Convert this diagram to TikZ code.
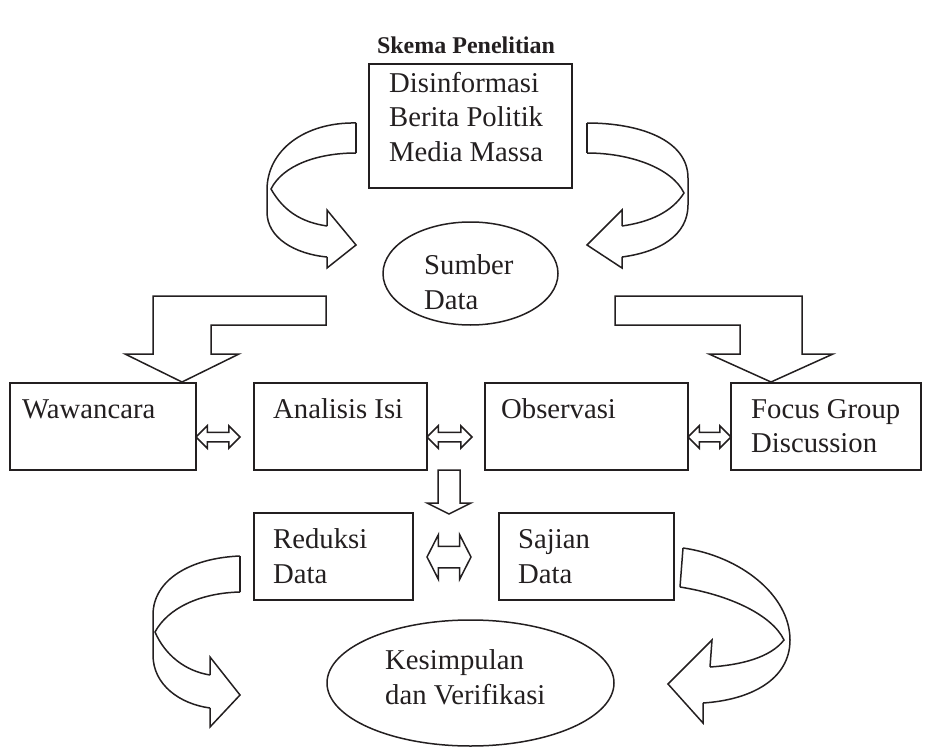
\documentclass[tikz,border=0pt]{standalone}
\usepackage{fontspec}
\setmainfont{Liberation Serif}
\usetikzlibrary{shapes.geometric,shapes.arrows}
\definecolor{ink}{HTML}{231F20}
\newcommand\bfnt{\fontsize{28.7}{34}\selectfont}
\newcommand\tfnt{\fontsize{24}{28}\selectfont\bfseries}
\tikzset{
  ln/.style={line width=1.5pt, draw=ink, line join=miter},
  box/.style={ln, rectangle, inner sep=0pt, outer sep=0pt},
  oval/.style={ln, ellipse, inner sep=0pt, outer sep=0pt},
  txt/.style={anchor=base west, inner sep=0pt, text=ink, font=\bfnt},
  blk/.style={ln, fill=white},
  dbl/.style={ln, double arrow, inner xsep=0pt, inner ysep=4pt, double arrow head extend=6.5pt},
  bigdbl/.style={ln, double arrow, inner xsep=0pt, inner ysep=10pt, double arrow head extend=11.5pt, double arrow tip angle=126},
}
\begin{document}
\begin{tikzpicture}[x=1pt,y=-1pt]
\useasboundingbox (0,0) rectangle (932,749);
% title
\node[anchor=base, inner sep=0pt, text=ink, font=\tfnt] (title) at (466,54) {Skema Penelitian};
% boxes
\node[box, minimum width=203pt, minimum height=124pt] (dis) at (470.5,126) {};
\node[txt] (dis1) at (389,92.5) {Disinformasi};
\node[txt] (dis2) at (389,127) {Berita Politik};
\node[txt] (dis3) at (389,161) {Media Massa};
\node[oval, minimum width=175pt, minimum height=103pt] (sumber) at (470.5,273.5) {};
\node[txt] (sum1) at (424,274) {Sumber};
\node[txt] (sum2) at (424,309) {Data};
\node[box, minimum width=186pt, minimum height=87pt] (wawan) at (103,426.5) {};
\node[txt] (wawant) at (22,418) {Wawancara};
\node[box, minimum width=173pt, minimum height=87pt] (anal) at (340.5,426.5) {};
\node[txt] (analt) at (273,418) {Analisis Isi};
\node[box, minimum width=203pt, minimum height=87pt] (obs) at (586.5,426.5) {};
\node[txt] (obst) at (501,418) {Observasi};
\node[box, minimum width=190pt, minimum height=87pt] (fgd) at (826,426.5) {};
\node[txt] (fgd1) at (751,418) {Focus Group};
\node[txt] (fgd2) at (751,452) {Discussion};
\node[box, minimum width=159pt, minimum height=87pt] (red) at (333.5,556.5) {};
\node[txt] (red1) at (273,548) {Reduksi};
\node[txt] (red2) at (273,583) {Data};
\node[box, minimum width=175pt, minimum height=87pt] (saj) at (586.5,556.5) {};
\node[txt] (saj1) at (518,548) {Sajian};
\node[txt] (saj2) at (518,583) {Data};
\node[oval, minimum width=287pt, minimum height=126pt] (kes) at (470.5,683) {};
\node[txt] (kes1) at (385,669) {Kesimpulan};
\node[txt] (kes2) at (385,704) {dan Verifikasi};
% double arrows
\node[dbl, minimum height=44pt] (d1) at (218,437) {};
\node[dbl, minimum height=45pt] (d2) at (449.5,437) {};
\node[dbl, minimum height=43pt] (d3) at (709.5,437) {};
\node[bigdbl, minimum height=44pt] (d4) at (449,557) {};
% down arrow
\draw[blk] (438,470) -- (460,470) -- (460,503) -- (471,503) -- (449,514) -- (427,503) -- (438,503) -- cycle;
% L arrows
\draw[blk] (153,296) -- (326,296) -- (326,325) -- (211,325) -- (211,354) -- (239,354) -- (182,382) -- (125,354) -- (153,354) -- cycle;
\draw[blk] (615,296) -- (802,296) -- (802,354) -- (833,354) -- (771,382) -- (709,354) -- (740,354) -- (740,325) -- (615,325) -- cycle;
% curved arrow top-left
\draw[ln] (356,123) .. controls (305,122) and (267,150) .. (267,190) -- (267,212) .. controls (267,238) and (295,254) .. (327,257);
\draw[ln] (356,153) .. controls (318,153) and (283,165) .. (271,189) .. controls (283,210) and (300,222) .. (327,226);
\draw[ln] (356,123) -- (356,153);
\draw[ln] (327,226) -- (327,210) -- (356,245) -- (327,268) -- (327,257);
% curved arrow top-right
\draw[ln] (587,123) .. controls (640,123) and (688,140) .. (688,178) -- (688,205) .. controls (688,235) and (660,252) .. (622,257);
\draw[ln] (587,153) .. controls (630,153) and (672,168) .. (684,193) .. controls (672,212) and (650,222) .. (622,226);
\draw[ln] (587,123) -- (587,153);
\draw[ln] (622,226) -- (622,210) -- (587,245) -- (622,268) -- (622,257);
% curved arrow bottom-left
\draw[ln] (240,556) .. controls (190,558) and (153,580) .. (153,615) -- (153,655) .. controls (153,685) and (180,704) .. (210,708);
\draw[ln] (240,592) .. controls (200,593) and (168,608) .. (155,632) .. controls (165,655) and (185,671) .. (210,675);
\draw[ln] (240,556) -- (240,592);
\draw[ln] (210,675) -- (210,657) -- (240,695) -- (210,727) -- (210,708);
% curved arrow bottom-right
\draw[ln] (683,548) .. controls (740,556) and (790,595) .. (790,640) .. controls (790,680) and (750,700) .. (703,703);
\draw[ln] (680,587) .. controls (730,595) and (772,615) .. (784,640) .. controls (770,658) and (740,665) .. (710,667);
\draw[ln] (683,548) -- (680,587);
\draw[ln] (710,667) -- (712,640) -- (668,684) -- (703,723) -- (703,703);
\end{tikzpicture}
\end{document}
